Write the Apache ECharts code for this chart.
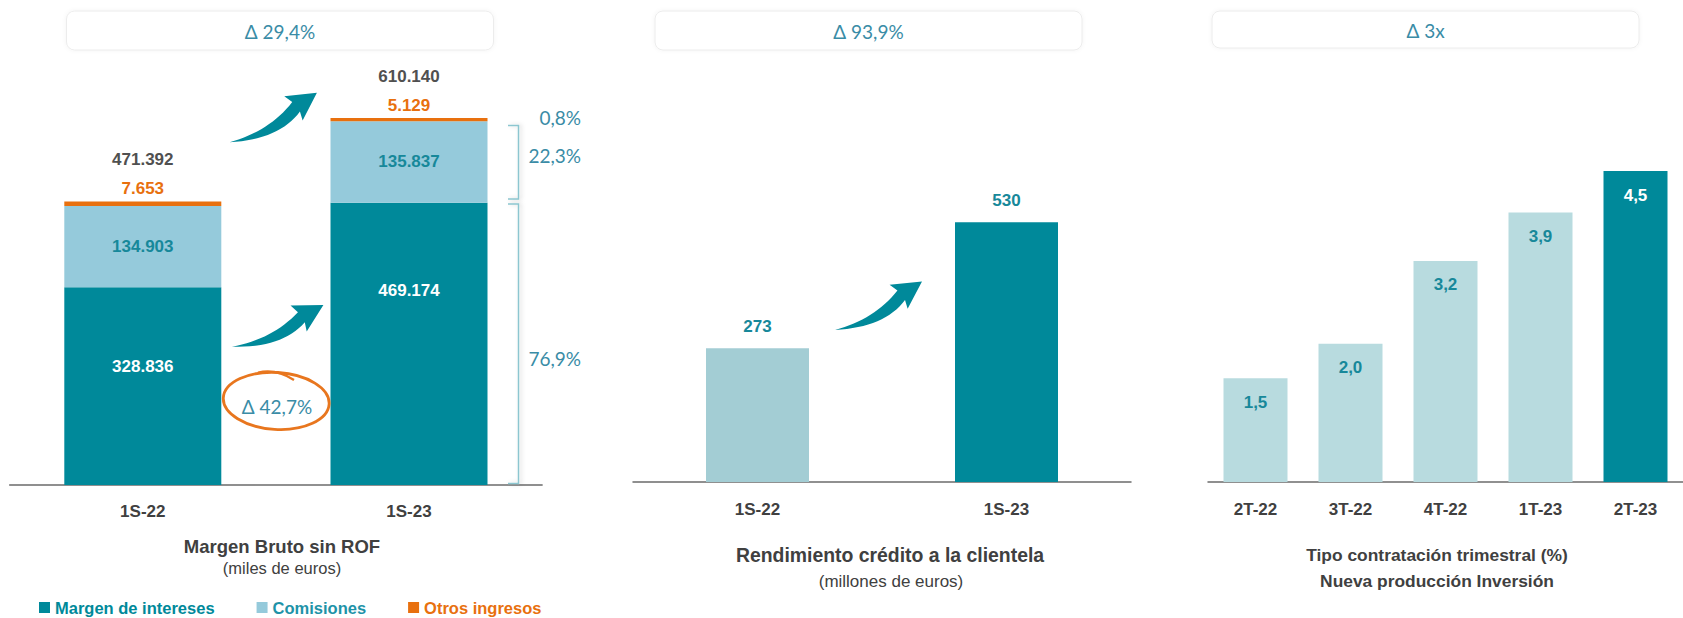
<!DOCTYPE html>
<html>
<head>
<meta charset="utf-8">
<script src="https://cdn.jsdelivr.net/npm/echarts@6/dist/echarts.min.js"></script>
<style>
html,body{margin:0;padding:0;background:#fff;}
#chart{width:1683px;height:618px;}
</style>
</head>
<body>
<div id="chart"></div>
<script>
// ---------------- DATA ----------------
const periods1 = ['1S-22', '1S-23'];
const margenIntereses = [328836, 469174];
const comisiones = [134903, 135837];
const otrosIngresos = [7653, 5129];
const shares1S23 = ['0,8%', '22,3%', '76,9%'];
const delta1 = 'Δ 29,4%';
const deltaMargen = 'Δ 42,7%';

const periods2 = ['1S-22', '1S-23'];
const rendimiento = [273, 530];
const delta2 = 'Δ 93,9%';

const periods3 = ['2T-22', '3T-22', '4T-22', '1T-23', '2T-23'];
const tipoContratacion = [1.5, 2.0, 3.2, 3.9, 4.5];
const delta3 = 'Δ 3x';

const legendNames = ['Margen de intereses', 'Comisiones', 'Otros ingresos'];

// ---------------- STYLE ----------------
const DARK = '#00899A';
const LIGHT1 = '#95CADB';
const ORANGE = '#E8700E';
const LIGHT2 = '#A3CDD4';
const LIGHT3 = '#B8DBDF';
const TEAL_TXT = '#17889A';
const DELTA_TXT = '#3A8CA6';
const GRAY = '#404040';
const BOLDF = "'Liberation Sans',Arial,sans-serif";
const SANS = "'Liberation Sans',Arial,sans-serif";
const LIGHTF = "Lato,'Open Sans',sans-serif";
const NUM = 17;
const margenLabelDist = [70.5, 79.5];
const bars2Colors = [LIGHT2, DARK];
const bars3Colors = [LIGHT3, LIGHT3, LIGHT3, LIGHT3, DARK];
const bars3LabelColors = [TEAL_TXT, TEAL_TXT, TEAL_TXT, TEAL_TXT, '#ffffff'];

const fmtThousands = v => String(v).replace(/\B(?=(\d{3})+(?!\d))/g, '.');
const fmtDec = v => v.toFixed(1).replace('.', ',');
const totals1 = margenIntereses.map((v, i) => v + comisiones[i] + otrosIngresos[i]);

function arrowPoints(x0, y0, x1, y1) {
  const dx = x1 - x0, dy = y1 - y0, L = Math.hypot(dx, dy);
  const ux = dx / L, uy = dy / L, vx = -uy, vy = ux;
  const P = (a, b) => [x0 + (a * ux + b * vx) * L, y0 + (a * uy + b * vy) * L];
  const quad = (a, c, b, n) => {
    const out = [];
    for (let i = 0; i <= n; i++) {
      const t = i / n, s = 1 - t;
      out.push(P(s * s * a[0] + 2 * s * t * c[0] + t * t * b[0], s * s * a[1] + 2 * s * t * c[1] + t * t * b[1]));
    }
    return out;
  };
  let pts = quad([0, 0], [0.40, 0.10], [0.74, -0.04], 16);
  pts = pts.concat([P(0.70, -0.13), P(1, 0), P(0.74, 0.17)]);
  pts = pts.concat(quad([0.76, 0.08], [0.45, 0.22], [0, 0], 16));
  return pts;
}

function deltaBox(x, y, w, h, t) {
  return [
    { type: 'rect', shape: { x: x, y: y, width: w, height: h, r: 8 }, z: 1,
      style: { fill: '#fff', stroke: '#ececec', lineWidth: 1, shadowBlur: 4, shadowColor: 'rgba(0,0,0,0.05)' } },
    { type: 'text', x: x + w / 2, y: y + h / 2 + 1, z: 2,
      style: { text: t, fill: DELTA_TXT, fontSize: 19, fontFamily: LIGHTF, textAlign: 'center', textVerticalAlign: 'middle', align: 'center', verticalAlign: 'middle' } }
  ];
}
function txt(x, y, s, size, weight, family, color, align) {
  return { type: 'text', x: x, y: y, z: 5,
    style: { text: s, fill: color || GRAY, fontSize: size, fontWeight: weight || 'normal', fontFamily: family,
      textAlign: align || 'center', textVerticalAlign: 'middle', align: align || 'center', verticalAlign: 'middle' } };
}
const BR = '#8CC6D0';
const brStyle = { stroke: BR, lineWidth: 1.5, fill: null, shadowBlur: 4, shadowColor: 'rgba(0,0,0,0.18)', shadowOffsetX: 2 };

const graphics = [].concat(
  deltaBox(66.5, 11, 427, 39, delta1),
  deltaBox(655, 11, 427, 39, delta2),
  deltaBox(1212, 11, 427, 37, delta3),
  [
    { type: 'polygon', z: 5, shape: { points: arrowPoints(229.6, 142.3, 316.9, 92.7) }, style: { fill: DARK } },
    { type: 'polygon', z: 5, shape: { points: arrowPoints(231.9, 346.7, 323.4, 305) }, style: { fill: DARK } },
    { type: 'polygon', z: 5, shape: { points: arrowPoints(835, 330, 922, 281.4) }, style: { fill: DARK } },
    { type: 'ellipse', z: 5, shape: { cx: 276.3, cy: 401, rx: 53, ry: 28.5 }, rotation: -0.06, originX: 276.3, originY: 401,
      style: { fill: null, stroke: '#E8761E', lineWidth: 2.8 } },
    { type: 'bezierCurve', z: 5, shape: { x1: 258, y1: 372.5, cpx1: 276, cpy1: 368, x2: 294, y2: 380 }, style: { fill: null, stroke: '#E8761E', lineWidth: 2.2 } },
    txt(277, 406, deltaMargen, 19, 'normal', LIGHTF, DELTA_TXT),
    { type: 'line', z: 5, shape: { x1: 508, y1: 118.5, x2: 518.5, y2: 118.5 }, style: brStyle },
    { type: 'line', z: 5, shape: { x1: 508, y1: 121.5, x2: 518.5, y2: 121.5 }, style: brStyle },
    { type: 'polyline', z: 5, shape: { points: [[508, 125.5], [518.5, 125.5], [518.5, 199], [508, 199]] }, style: brStyle },
    { type: 'polyline', z: 5, shape: { points: [[508, 204], [518.5, 204], [518.5, 483.5], [508, 483.5]] }, style: brStyle },
    txt(581, 117, shares1S23[0], 19, 'normal', LIGHTF, DELTA_TXT, 'right'),
    txt(581, 155.5, shares1S23[1], 19, 'normal', LIGHTF, DELTA_TXT, 'right'),
    txt(581, 358, shares1S23[2], 19, 'normal', LIGHTF, DELTA_TXT, 'right'),
    txt(282, 546, 'Margen Bruto sin ROF', 18.5, 'bold', BOLDF, GRAY),
    txt(282, 568, '(miles de euros)', 16.5, 'normal', SANS, GRAY),
    txt(890, 555, 'Rendimiento crédito a la clientela', 19.4, 'bold', BOLDF, GRAY),
    txt(891, 581, '(millones de euros)', 17, 'normal', SANS, GRAY),
    txt(1437, 555, 'Tipo contratación trimestral (%)', 17.4, 'bold', BOLDF, GRAY),
    txt(1437, 581, 'Nueva producción Inversión', 17.4, 'bold', BOLDF, GRAY)
  ]
);

const axisLine = { show: true, lineStyle: { color: '#6b6b6b', width: 1.5 } };
const catLabel = { color: GRAY, fontFamily: BOLDF, fontWeight: 'bold', fontSize: NUM };

const option = {
  animation: false,
  backgroundColor: '#ffffff',
  grid: [
    { left: 9.7, width: 532.4, top: 64, bottom: 133 },
    { left: 633, width: 498, top: 139, bottom: 136 },
    { left: 1208, width: 490, top: 136.5, bottom: 136 }
  ],
  xAxis: [
    { type: 'category', gridIndex: 0, data: periods1, axisTick: { show: false }, axisLine: axisLine, axisLabel: Object.assign({ margin: 17.5 }, catLabel) },
    { type: 'category', gridIndex: 1, data: periods2, axisTick: { show: false }, axisLine: axisLine, axisLabel: Object.assign({ margin: 19 }, catLabel) },
    { type: 'category', gridIndex: 2, data: periods3, axisTick: { show: false }, axisLine: axisLine, axisLabel: Object.assign({ margin: 19 }, catLabel) }
  ],
  yAxis: [
    { type: 'value', gridIndex: 0, min: 0, max: 700000, show: false },
    { type: 'value', gridIndex: 1, min: 0, max: 700, show: false },
    { type: 'value', gridIndex: 2, min: 0, max: 5, show: false }
  ],
  legend: {
    data: [
      { name: legendNames[0], textStyle: { color: DARK } },
      { name: legendNames[1], textStyle: { color: '#1E93A8' } },
      { name: legendNames[2], textStyle: { color: ORANGE } }
    ],
    left: 39, top: 599, padding: 0, icon: 'rect', itemWidth: 11, itemHeight: 11, itemGap: 42, selectedMode: false,
    textStyle: { fontFamily: BOLDF, fontWeight: 'bold', fontSize: 16.5 }
  },
  series: [
    {
      name: legendNames[0], type: 'bar', stack: 'mb', xAxisIndex: 0, yAxisIndex: 0, barWidth: 157,
      itemStyle: { color: DARK },
      data: margenIntereses.map((v, i) => ({ value: v, label: { distance: margenLabelDist[i] } })),
      label: { show: true, position: 'insideTop', color: '#ffffff', fontFamily: BOLDF, fontWeight: 'bold', fontSize: NUM,
        formatter: p => fmtThousands(p.value) }
    },
    {
      name: legendNames[1], type: 'bar', stack: 'mb', xAxisIndex: 0, yAxisIndex: 0, barWidth: 157,
      itemStyle: { color: LIGHT1 },
      data: comisiones,
      label: { show: true, position: 'inside', color: TEAL_TXT, fontFamily: BOLDF, fontWeight: 'bold', fontSize: NUM,
        formatter: p => fmtThousands(p.value) }
    },
    {
      name: legendNames[2], type: 'bar', stack: 'mb', xAxisIndex: 0, yAxisIndex: 0, barWidth: 157,
      itemStyle: { color: ORANGE },
      data: otrosIngresos,
      label: { show: true, position: 'top', distance: 3, fontFamily: BOLDF, fontWeight: 'bold', fontSize: NUM,
        formatter: p => '{t|' + fmtThousands(totals1[p.dataIndex]) + '}\n{o|' + fmtThousands(p.value) + '}',
        rich: {
          t: { color: '#505050', fontFamily: BOLDF, fontWeight: 'bold', fontSize: NUM, lineHeight: 38 },
          o: { color: ORANGE, fontFamily: BOLDF, fontWeight: 'bold', fontSize: NUM, lineHeight: 20 }
        } }
    },
    {
      name: 'Rendimiento', type: 'bar', xAxisIndex: 1, yAxisIndex: 1, barWidth: 103,
      data: rendimiento.map((v, i) => ({ value: v, itemStyle: { color: bars2Colors[i] } })),
      label: { show: true, position: 'top', distance: 13, color: TEAL_TXT, fontFamily: BOLDF, fontWeight: 'bold', fontSize: NUM }
    },
    {
      name: 'Tipo', type: 'bar', xAxisIndex: 2, yAxisIndex: 2, barWidth: 64,
      data: tipoContratacion.map((v, i) => ({ value: v, itemStyle: { color: bars3Colors[i] }, label: { color: bars3LabelColors[i] } })),
      label: { show: true, position: 'insideTop', distance: 15.5, fontFamily: BOLDF, fontWeight: 'bold', fontSize: NUM,
        formatter: p => fmtDec(p.value) }
    }
  ],
  graphic: { elements: graphics }
};

const chart = echarts.init(document.getElementById('chart'), null, { renderer: 'svg', width: 1683, height: 618 });
chart.setOption(option);
</script>
</body>
</html>
